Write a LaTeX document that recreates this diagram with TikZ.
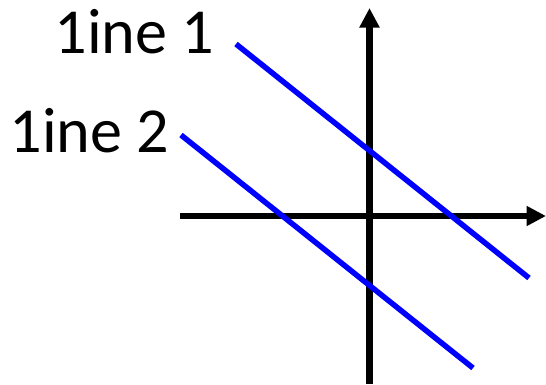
\documentclass[tikz,border=0pt]{standalone}
\usepackage{fontspec}
\setmainfont{Carlito}
\usepackage{tikz}
\usetikzlibrary{arrows.meta}

\begin{document}
\begin{tikzpicture}[x=0.2mm,y=-0.2mm,
    axis/.style={line width=6.5*0.2mm,black,-{Triangle[width=3.8mm,length=3.9mm]}},
    bline/.style={line width=5.5*0.2mm,blue},
    lbl/.style={font=\fontsize{36.5}{44}\selectfont,inner sep=0pt,anchor=base}]
    \useasboundingbox (0,0) rectangle (546,384);
    % axes
        \coordinate (xs) at (180,216);
        \coordinate (xe) at (546,216);
        \coordinate (ys) at (369.5,384);
        \coordinate (ye) at (369.5,8);
        \draw[axis](xs)--(xe);
        \draw[axis](ys)--(ye);
    % first line
        \coordinate (a1) at (236,44);
        \coordinate (b1) at (529,278);
        \draw[bline](a1)--(b1);
        \node[lbl] (l1) at (134.5,53){1ine 1};
    % second line
        \coordinate (a2) at (181,135);
        \coordinate (b2) at (473,368);
        \draw[bline](a2)--(b2);
        \node[lbl] (l2) at (89.5,152){1ine 2};
\end{tikzpicture}
\end{document}
